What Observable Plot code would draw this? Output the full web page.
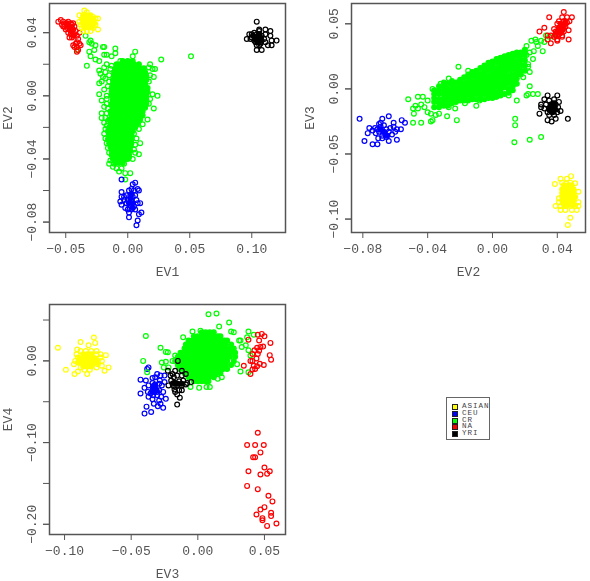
<!DOCTYPE html>
<html><head><meta charset="utf-8">
<script src="https://cdn.jsdelivr.net/npm/d3@7"></script>
<script src="https://cdn.jsdelivr.net/npm/@observablehq/plot@0.6"></script>
<style>
html,body{margin:0;padding:0;background:#fff}
#c{position:relative;width:590px;height:581px;overflow:hidden}
#c svg{position:absolute;background:transparent;filter:blur(.35px)}
#leg{position:absolute;left:446px;top:397px;width:44px;height:43px;border:1px solid #666;box-sizing:border-box;font:7.6px/6.8px "Liberation Mono",monospace;letter-spacing:.95px;color:#444;padding-top:5px}
#leg div{height:6.8px;position:relative;padding-left:15px;white-space:nowrap}
#leg i{position:absolute;left:5px;top:1px;width:4px;height:4px;border:1px solid #222}
</style></head><body><div id="c"></div>
<script>
// All values are thousandths of an eigenvector unit.
const groups=["ASIAN","CEU","CR","NA","YRI"];
const groupColors=["#ffff00","#0000ff","#00ff00","#ff0000","#000000"];

// EV1 vs EV2
const p1Black=[[104,47],[98,39],[96,36],[99,36],[100,39],[102,40],[103,37],[104,39],[106,42],[106,41],[111,42],[115,41],[115,38],[120,35],[116,35],[116,32],[113,32],[108,29],[104,29],[104,32],[107,34],[110,36],[106,37],[102,35],[103,34],[108,38],[111,39],[106,32],[107,37],[104,35],[107,33],[100,37],[111,34]];
const p1BlackCore=[[104,37],[107,36],[105,34],[103,36],[108,35],[101,38],[106,39]];
const p1Red=[[-56,47],[-54,48],[-53,45],[-52,47],[-51,44],[-50,46],[-49,43],[-48,47],[-47,44],[-46,41],[-45,45],[-44,42],[-50,42],[-48,40],[-46,39],[-47,37],[-45,37],[-43,39],[-42,41],[-41,38],[-39,40],[-40,36],[-41,34],[-42,33],[-44,32],[-43,31],[-41,31],[-39,33],[-38,32],[-40,29],[-41,28],[-46,46],[-44,46],[-49,46],[-52,44],[-47,42],[-45,43],[-43,44]];
const p1RedCore=[[-49,45],[-47,43],[-45,41],[-44,38]];
const p1Yellow=[[-35,54],[-33,53],[-39,51],[-28,50],[-26,49],[-39,47],[-24,49],[-38,45],[-26,45],[-37,43],[-28,43],[-36,41],[-33,41],[-30,41],[-24,42]];
const p1YellowCore=[[-36,51],[-33,51],[-30,51],[-37,48.5],[-34,48.5],[-31,48.5],[-28,48.5],[-36,46],[-33,46],[-30,46],[-27,46],[-35,43.5],[-32,43.5],[-29,43.5]];
const p1Blue=[[-5,-53],[6,-55],[4,-56],[3,-59],[8,-59],[-5,-61],[1,-60],[5,-60],[9,-60],[-5,-64],[-1,-63],[2,-63],[6,-63],[-6,-67],[-3,-66],[0,-66],[3,-66],[7,-66],[10,-68],[-5,-69],[-1,-68],[2,-69],[5,-70],[0,-72],[3,-72],[6,-72],[1,-74],[9,-75],[11,-74],[1,-77],[8,-79],[7,-82],[-3,-64],[4,-64],[-2,-71],[8,-68]];
const p1BlueCore=[[2,-65],[4,-68],[1,-68],[3,-62],[4,-71]];
const p1GreenLoose=[[51,25],[27,23],[-33,19],[-30,35],[-31,34],[-29,33],[-34,38],[-26,32],[-31,28],[-27,29],[-41,29],[-20,31],[-19,31],[-10,30],[-30,25],[-26,23],[-23,22],[-19,26],[-17,26],[-13,25],[-10,27],[6,28],[4,25],[2,21],[-23,16],[-22,14],[-23,8],[-21,9],[-19,18],[-17,20],[-14,17],[-18,15],[-15,13],[-18,11],[-15,9],[-13,19],[-6,22],[-2,21],[18,20],[22,17],[20,17],[17,18],[18,13],[21,12],[17,9],[20,1],[24,0],[18,-2],[17,-5],[21,-8],[16,-15],[-23,1],[-17,0],[-17,-2],[-21,-3],[-17,-5],[-19,-7],[-21,-11],[-21,-14],[-17,-11],[-19,-17],[-17,-19],[-19,-24],[-17,-30],[-15,-36],[-14,-41],[-15,-43],[-11,-43],[-9,-46],[-7,-48],[-2,-49],[2,-49],[-2,-53],[10,-30],[6,-36],[9,-37],[5,-34],[9,-21],[12,-18],[5,-24],[1,-39],[-3,-43],[-20,12],[-16,6],[-19,4],[-16,-8],[-18,-14],[-16,-16],[-18,-21],[-18,-27],[-16,-33],[7,-27],[6,-31],[4,-40],[-12,-45],[-5,-46]];
const p1GreenRows=[[22,-4,0,4],[20,-9,-6,-2,1,5,9],[17.5,-10,-7,-3,0,3,7,10,13],[15,-11,-8,-5,-2,1,4,8,11,14],[12.5,-11,-7,-4,-1,3,6,9,12,15],[10,-12,-9,-6,-3,0,4,7,10,13,15],[7.5,-12,-8,-5,-2,1,4,8,11,14],[5,-13,-10,-7,-4,0,3,6,9,12,16],[2.5,-13,-9,-6,-2,1,5,8,11,14,16],[0,-13,-10,-7,-4,-1,2,5,9,12,15],[-2.5,-12,-8,-5,-2,1,4,7,10,13,15],[-5,-13,-10,-7,-3,0,3,6,9,12,15],[-7.5,-12,-8,-5,-2,1,5,8,11,14],[-10,-14,-10,-7,-4,-1,3,6,9,12],[-12.5,-13,-9,-6,-2,1,4,7,10,12],[-15,-15,-11,-8,-5,-2,1,4,8,10],[-17.5,-14,-10,-7,-3,0,3,6,8],[-20,-15,-12,-9,-6,-3,0,3,6],[-22.5,-16,-13,-10,-7,-4,-1,2,4],[-25,-15,-12,-9,-5,-2,1,3],[-27.5,-16,-13,-10,-7,-4,-1,3],[-30,-15,-12,-9,-5,-2,1,3],[-32.5,-14,-10,-7,-4,-1,2],[-35,-13,-10,-6,-3,0,2],[-37.5,-13,-9,-6,-3,1],[-40,-12,-9,-6,-2,0],[-42.5,-10,-7,-4]];

// EV2 vs EV3
const p2GreenLoose=[[-52,-8],[-46,-6],[-47.5,-13],[-49,-15],[-46,-15],[-48.5,-19],[-49,-26],[-44,-26],[-43,-6],[-44,-12],[-42,-14],[-40,-18],[-38,-19],[-38,-25],[-37,-24],[-35,-20],[-33,-19],[-28,-21],[-22,-24],[-21,17],[-31,-12],[-27,-14],[-23,-15],[-17,-11],[-10,-13],[-40,-9],[-37,0],[-32,4],[-27,8],[-15,14],[14,-23],[14,-28],[13.5,-41],[23,-39],[30,-37],[15,-9],[21,-5],[23,2],[22,-4],[25,-4],[28,-4],[23,13],[22,19],[25,23],[23,28],[21,33],[24,37],[26.5,38],[25.5,29],[28,33],[31,29],[30,37],[33,41],[32,36],[35,40],[38,40],[21,26],[22,17],[19,9],[10,-5],[2,-6],[-8,-9],[27,36]];
const p2GreenCols=[[-36,-1,-4,-7,-10,-14],[-33,2,-1,-4,-8,-11,-14],[-30,5,2,-1,-4,-7,-10,-13],[-27.5,4,0,-3,-6,-9,-13],[-25,6,3,0,-3,-6,-9,-11],[-22.5,5,1,-2,-5,-8,-10],[-20,7,4,1,-2,-5,-9],[-17.5,9,5,2,-1,-4,-7,-9],[-15,11,8,4,1,-2,-5,-9],[-12.5,13,10,6,3,0,-3,-6,-8],[-10,14,11,8,5,2,-1,-4,-8],[-7.5,16,12,9,6,3,0,-3,-6,-8],[-5,18,15,12,8,5,2,-1,-4,-8],[-2.5,20,17,14,10,7,4,1,-2,-5,-7],[0,21,18,15,12,9,6,3,0,-3,-7],[2.5,23,20,16,13,10,7,4,1,-3,-6],[5,24,21,18,15,12,9,5,2,-1,-5],[7.5,25,22,19,16,13,10,7,4,1,-4],[10,26,23,20,17,14,10,7,4,0,-3],[12.5,27,24,21,18,15,11,8,5,2,-1],[15,28,25,21,18,15,12,8,4],[17.5,28,25,22,18,14,11],[20,30,26,22,18,14]];
const p2Red=[[44,59],[35,55],[49,55],[46,55],[47.5,52],[43,55],[41,52],[44,52],[46,51],[40,50],[43,49],[45,48],[38,46],[41,46],[43,45],[32,47],[29,44],[39,44],[41,42],[44,44],[47,45],[43,41],[36,41],[34,41],[38,40],[40,38],[43,40],[47,38],[36,35],[34,38],[40,37],[42,47],[39,41],[45,50]];
const p2RedCore=[[42,50],[44,48],[41,47],[43,45],[40,44],[42,43],[39,42],[45,52]];
const p2Black=[[34,-5],[40,-5],[32,-8],[35,-9],[38,-8],[41,-10],[30,-12],[33,-12],[36,-12],[39,-12],[30,-14],[32,-15],[35,-15],[38,-15],[40.5,-14],[29,-19],[34,-18],[37,-18],[40,-18],[42,-17],[35,-20],[38,-20],[46.5,-23],[34,-24],[36.5,-25],[39,-23],[37,-12],[37,-15]];
const p2BlackCore=[[36,-13],[38,-11],[37,-15],[39,-16],[35,-16],[37,-18],[38,-13]];
const p2Blue=[[-82,-23],[-79,-40],[-74,-42.5],[-71,-42.5],[-77,-34],[-76,-30],[-72.5,-30],[-68,-23],[-64,-21],[-56,-24],[-54,-26],[-56.5,-31],[-59,-31],[-61,-26],[-61,-29],[-59,-39],[-64,-40],[-68,-38],[-70.5,-38],[-72,-34],[-70,-27],[-69,-29],[-67,-28],[-68,-33],[-66,-35],[-64,-33],[-62,-35],[-71,-31],[-70,-33],[-68,-36],[-65.5,-31],[-63,-30],[-60,-33],[-65.5,-37],[-74,-32],[-69,-26]];
const p2BlueCore=[[-69,-31],[-67,-33],[-65,-36]];
const p2Yellow=[[48.5,-67],[42,-69],[46,-69],[38.5,-73],[43,-72],[45.5,-72.5],[48,-72],[51,-72.5],[53,-79],[41,-84],[41,-87],[53,-87],[39,-90],[42,-90],[45,-90],[48,-90],[51,-90],[53,-90],[42,-93],[45,-93],[49,-93],[52,-93],[48,-99],[46.5,-104.5]];
const p2YellowCore=[[44,-74],[47,-74],[49,-74],[43,-77],[46,-77],[48,-77],[50,-77],[43,-80],[45,-80],[48,-80],[50,-80],[43,-83],[46,-83],[48,-83],[51,-83],[43,-86],[45,-86],[48,-86],[50,-86],[44,-89],[47,-89],[50,-89]];

// EV3 vs EV4
const p3GreenRows=[[35,3,6,9,12],[30,-3,0,3,6,9,12,15,17],[25,-7,-4,-1,2,5,8,11,14,17,20,22],[20,-9,-6,-3,0,3,6,9,12,15,18,21,25],[15,-10,-7,-4,-1,2,5,8,11,14,17,20,23,27],[10,-13,-10,-7,-4,-1,2,5,8,11,14,17,20,23,26,28],[5,-15,-12,-9,-6,-3,0,3,6,9,12,15,18,21,24,28],[0,-17,-14,-11,-8,-5,-2,1,4,7,10,13,16,19,22,27],[-5,-15,-12,-9,-6,-3,0,3,6,9,12,15,18,21,25],[-10,-14,-11,-8,-5,-2,1,4,7,10,13,16,19,22],[-15,-10,-7,-4,-1,2,5,8,11,14,17],[-20,-7,-4,-1,2,5,8,12],[-25,-3,0,3,6,8]];
const p3GreenLoose=[[8,57],[14,58],[23.5,47],[-39,30.5],[-28,16],[-24,11],[-22.5,10.5],[-41,0],[-27,-2],[-24,-1],[-25.5,-8],[-22,-8],[-38,-14],[38,36],[42,32],[37,29],[27,35],[25,36],[16,42],[-4,36],[-11,29],[32,25],[36,19],[38,13],[39.5,6.5],[32,-13],[38,-14],[29.5,-4],[15,-22],[18,-20],[9,-32],[6.5,-32],[1,-33],[-5.5,-32],[-13,2.5],[-19,0],[-17,6.5],[2,37],[31,25],[33,17]];
const p3Blue=[[-37,-8],[-38,-10],[-30.5,-16],[-28,-18],[-25,-18],[-43,-23],[-39,-24],[-34,-21],[-32,-20],[-28.5,-24],[-25,-26],[-40,-33],[-37,-30],[-34,-27],[-32,-29],[-29,-28],[-27,-30],[-43,-40],[-37.5,-38],[-34,-36],[-32,-34],[-29,-36],[-26,-38],[-37,-44],[-33.5,-42],[-30.5,-42],[-27.5,-44],[-24,-46.5],[-34,-47],[-29,-48.5],[-33,-52.5],[-30,-55.5],[-28,-52.5],[-38.5,-56],[-26,-57.5],[-35,-62.5],[-40,-64.5],[-33,-30],[-30.5,-38],[-35.5,-40],[-32.5,-38],[-33.5,-32]];
const p3BlueCore=[[-33,-33],[-31,-36],[-32,-30],[-34,-38]];
const p3Black=[[-22.5,-12],[-19,-16],[-17,-12],[-15,0],[-12,-12],[-18,-20],[-20.5,-18],[-15.5,-18],[-12,-18],[-9,-16],[-22,-30],[-19,-28],[-17,-27],[-14,-25],[-11,-24],[-8,-27],[-5,-26],[-20,-24],[-18,-31],[-15.5,-30],[-12,-30],[-9,-29],[-17,-38],[-14,-36],[-12,-36],[-15.5,-41],[-13.5,-45],[-15.5,-53.5],[-17.5,-35]];
const p3BlackCore=[[-18,-27],[-15,-28],[-12,-28]];
const p3Red=[[38,26],[48,33],[50,30],[45,32],[46,25],[54.5,22],[49,17.5],[47,17],[44.5,16],[42.5,13],[46,12.5],[41,8.5],[45,8.5],[54,7],[55,1.5],[44,3],[39.5,0],[41,0],[34.5,-6],[49.5,-5],[46.5,-3.5],[42,-6],[44.5,-6.5],[41,-10.5],[43,-10],[39.5,-16],[45,-88],[37,-103],[43,-103],[49.5,-103],[47,-112],[41.5,-118],[43,-118],[50,-130.5],[54,-135],[52,-138],[47,-139],[38,-135],[37,-153],[45,-157],[53,-165],[56,-172],[50,-179],[47,-182],[44,-188],[55,-186],[55,-190],[48.5,-192.5],[48.5,-195],[59,-199],[52,-202]];
const p3Yellow=[[-105,16],[-99,-11],[-88,23],[-78,28.5],[-77,22],[-82,19],[-90.5,14],[-69,7],[-67,-8],[-70,-12],[-92.5,-16],[-83,-16],[-90,-13],[-93,-4],[-72,-6],[-88,12],[-84,12],[-80,12],[-76,12],[-91,8],[-76,8],[-73,8],[-90,4],[-73,4],[-92,0],[-75,0],[-72,0],[-75,-4],[-88,-8],[-76,-8],[-85,-11],[-81,-11]];
const p3YellowCore=[[-86,8],[-83,8],[-80,8],[-89,3],[-86,3],[-83,3],[-80,3],[-77,3],[-90,-2],[-87,-2],[-84,-2],[-81,-2],[-78,-2],[-75,-2],[-86,-7],[-83,-7],[-80,-7]];

const rowsToPairs=r=>r.flatMap(([y,...xs])=>xs.map(x=>[x,y]));
const colsToPairs=c=>c.flatMap(([x,...ys])=>ys.map(y=>[x,y]));
const tbl=(g,a)=>a.map(([x,y])=>({x:x/1000,y:y/1000,group:g}));
const fmt=d=>d3.format(".2f")(d).replace("-","\u2212");
const mono='"Liberation Mono","DejaVu Sans Mono",monospace';

function panel(o){
  const svg=Plot.plot({
    width:o.w,height:o.h,marginLeft:o.ml,marginRight:o.mr,marginTop:o.mt,marginBottom:o.mb,
    style:{fontFamily:mono,fontSize:"13px",color:"#555",background:"transparent"},
    x:{domain:o.xd},y:{domain:o.yd},
    color:{domain:groups,range:groupColors},
    marks:[
      Plot.dot(o.core,{x:"x",y:"y",stroke:"group",fill:"group",r:2.4,strokeWidth:1.2}),
      Plot.dot(o.loose,{x:"x",y:"y",stroke:"group",r:2.4,strokeWidth:1.2,fill:"none"}),
      Plot.frame({stroke:"#555",strokeWidth:1.5}),
      Plot.axisX({ticks:o.xt,tickFormat:fmt,tickSize:6,tickPadding:5,stroke:"#555",fill:"#555",label:o.xl,labelAnchor:"center",labelArrow:"none",labelOffset:43}),
      Plot.axisY({ticks:o.yt,tickFormat:()=>"",tickSize:6,stroke:"#555",label:null}),
      Plot.axisY({ticks:o.yl,tickFormat:fmt,tickSize:6,tickPadding:8,tickRotate:-90,textAnchor:"middle",stroke:"#555",fill:"#555",label:o.ylb,labelAnchor:"center",labelArrow:"none",labelOffset:47})
    ]
  });
  svg.style.left=o.l+"px";svg.style.top=o.t+"px";
  document.getElementById("c").append(svg);
}

panel({l:0,t:0,w:295,h:290,ml:49,mr:10,mt:3,mb:58,xd:[-0.0631,0.1272],yd:[-0.0866,0.0585],
  xt:[-0.05,0,0.05,0.10],yt:[-0.08,-0.06,-0.04,-0.02,0,0.02,0.04],yl:[-0.08,-0.04,0,0.04],xl:"EV1",ylb:"EV2",
  core:[...tbl("CR",rowsToPairs(p1GreenRows)),...tbl("CEU",p1BlueCore),...tbl("NA",p1RedCore),...tbl("ASIAN",p1YellowCore),...tbl("YRI",p1BlackCore)],
  loose:[...tbl("CR",p1GreenLoose),...tbl("CEU",p1Blue),...tbl("NA",p1Red),...tbl("ASIAN",p1Yellow),...tbl("YRI",p1Black)]});
panel({l:295,t:0,w:295,h:290,ml:56,mr:5,mt:3,mb:58,xd:[-0.087,0.0574],yd:[-0.1103,0.0656],
  xt:[-0.08,-0.04,0,0.04],yt:[-0.10,-0.05,0,0.05],yl:[-0.10,-0.05,0,0.05],xl:"EV2",ylb:"EV3",
  core:[...tbl("CR",colsToPairs(p2GreenCols)),...tbl("CEU",p2BlueCore),...tbl("NA",p2RedCore),...tbl("ASIAN",p2YellowCore),...tbl("YRI",p2BlackCore)],
  loose:[...tbl("CR",p2GreenLoose),...tbl("CEU",p2Blue),...tbl("NA",p2Red),...tbl("ASIAN",p2Yellow),...tbl("YRI",p2Black)]});
panel({l:0,t:295,w:295,h:286,ml:49,mr:10,mt:9,mb:47,xd:[-0.1113,0.0658],yd:[-0.2125,0.069],
  xt:[-0.10,-0.05,0,0.05],yt:[-0.20,-0.15,-0.10,-0.05,0,0.05],yl:[-0.20,-0.10,0],xl:"EV3",ylb:"EV4",
  core:[...tbl("CEU",p3BlueCore),...tbl("CR",rowsToPairs(p3GreenRows)),...tbl("ASIAN",p3YellowCore),...tbl("YRI",p3BlackCore)],
  loose:[...tbl("CEU",p3Blue),...tbl("CR",p3GreenLoose),...tbl("NA",p3Red),...tbl("ASIAN",p3Yellow),...tbl("YRI",p3Black)]});

const leg=document.createElement("div");leg.id="leg";
groups.forEach((g,i)=>{const d=document.createElement("div");const s=document.createElement("i");s.style.background=groupColors[i];d.append(s,g);leg.append(d);});
document.getElementById("c").append(leg);
</script></body></html>
